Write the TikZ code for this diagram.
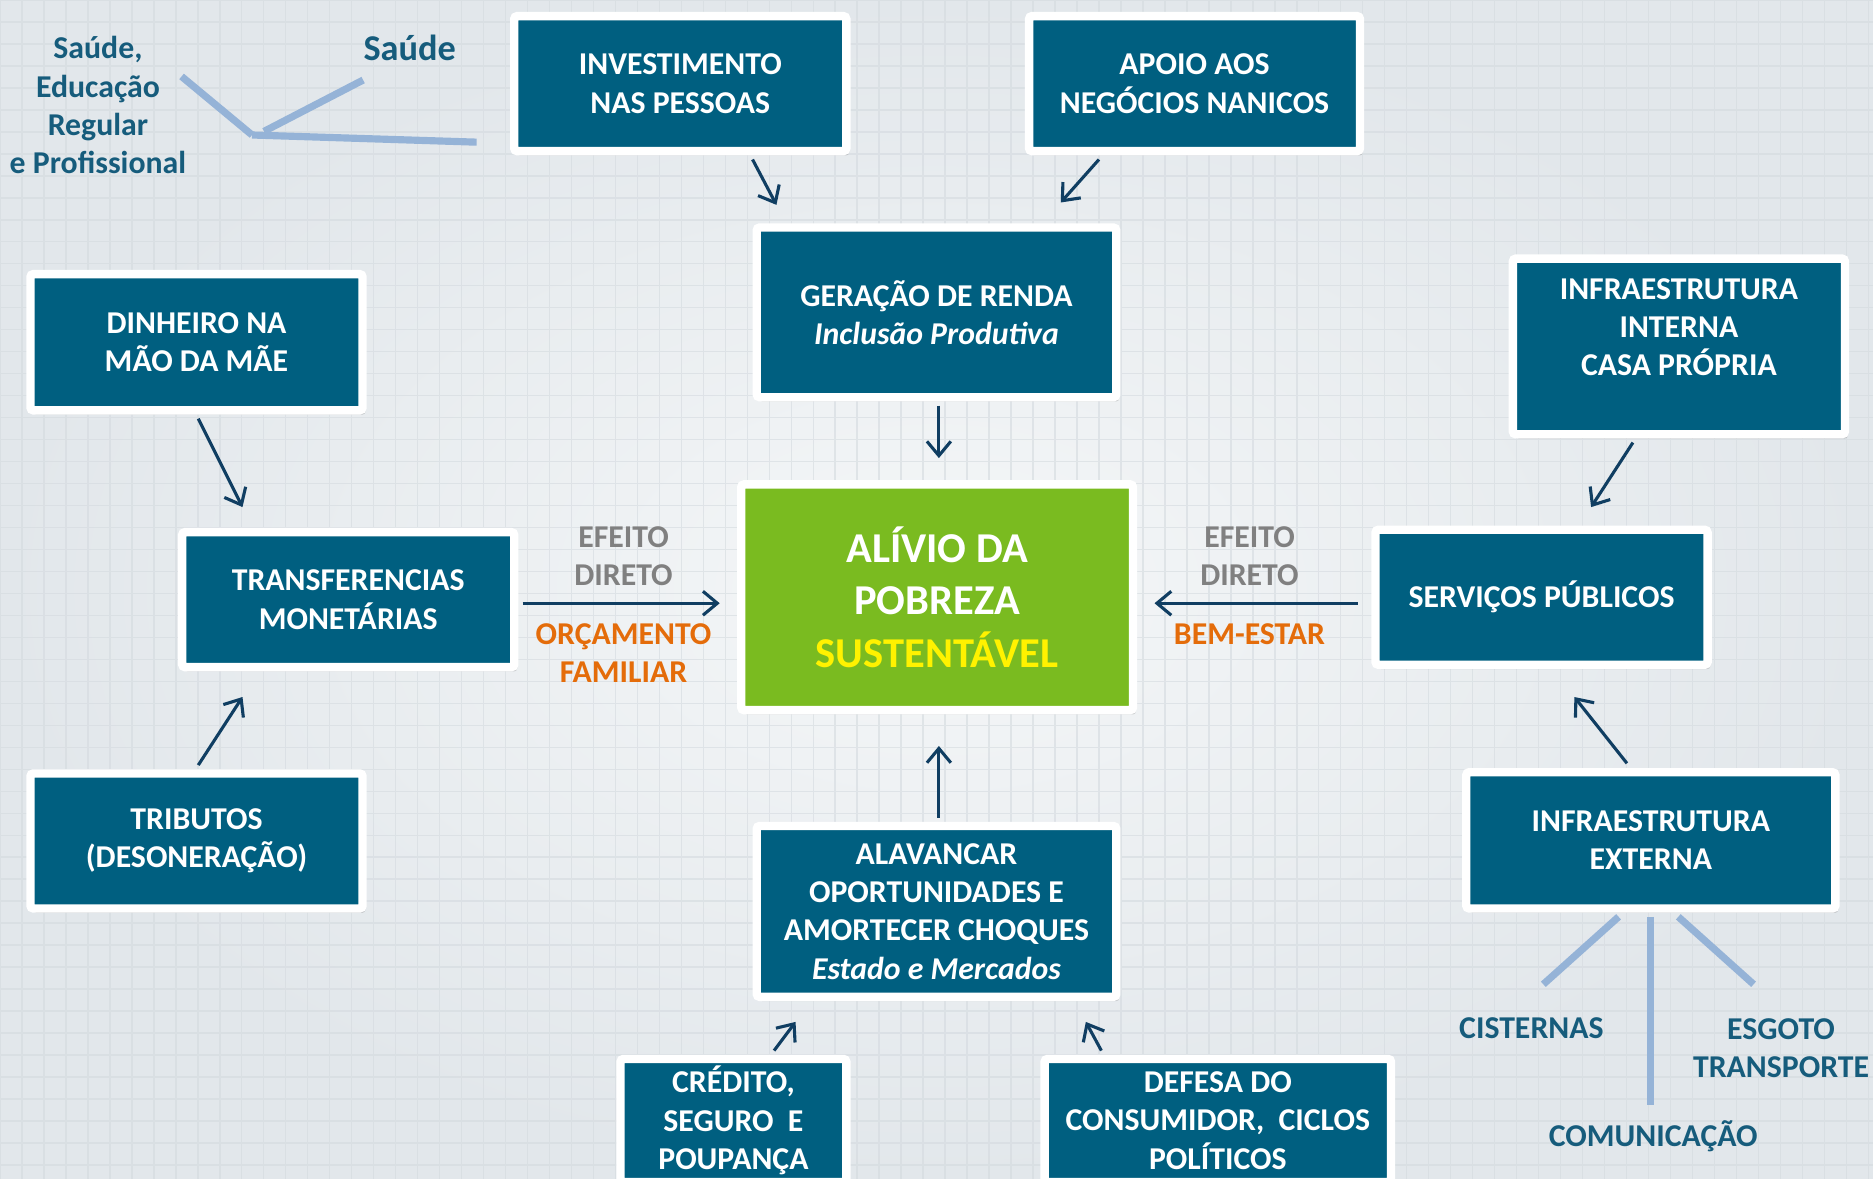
\documentclass[tikz,border=0pt]{standalone}
\usepackage{fontspec}
\setmainfont{Carlito}
\usetikzlibrary{arrows.meta,shadows,calc}
\definecolor{boxblue}{RGB}{0,95,128}
\definecolor{alivgreen}{RGB}{122,187,32}
\definecolor{arrowblue}{RGB}{16,62,98}
\definecolor{lineblue}{RGB}{149,179,215}
\definecolor{labelblue}{RGB}{22,92,124}
\definecolor{efgray}{RGB}{128,128,128}
\definecolor{orcorange}{RGB}{228,108,10}
\definecolor{bgouter}{RGB}{226,231,235}
\definecolor{bginner}{RGB}{245,247,248}
\definecolor{gridcol}{RGB}{212,218,223}
\begin{document}
\begin{tikzpicture}[x=0.5pt,y=-0.5pt,
  box/.style={draw=white, line width=3.5pt, fill=boxblue, text=white,
    font=\bfseries\fontsize{13.3}{16}\selectfont, align=center, inner sep=0pt,
    rounded corners=1.2pt,
    drop shadow={shadow xshift=1.2pt, shadow yshift=-1.8pt, opacity=0.3}},
  arr/.style={draw=arrowblue, line width=1.3pt,
    -{Straight Barb[length=6pt,width=10pt,line width=1.3pt]}},
  branch/.style={draw=lineblue, line width=3pt},
  lbl/.style={font=\bfseries\fontsize{13.3}{16}\selectfont, align=center, inner sep=0pt, text=labelblue}
]
\useasboundingbox (0,0) rectangle (1568,987);
% background
\shade[inner color=bginner, outer color=bgouter] (0,0) rectangle (1568,987);
\draw[gridcol, line width=0.6pt, opacity=0.6, step=9.2pt] (0,0) grid (1568,987);

% boxes
\node[box, minimum width=139pt, minimum height=56.5pt] (inv) at (569.5,70) {INVESTIMENTO\\NAS PESSOAS};
\node[box, minimum width=138.5pt, minimum height=56.5pt] (apoio) at (1000,70) {APOIO AOS\\NEGÓCIOS NANICOS};
\node[box, minimum width=150.5pt, minimum height=71pt] (ger) at (784,261.5) {GERAÇÃO DE RENDA\\\textit{Inclusão Produtiva}};
\node[box, minimum width=139pt, minimum height=57pt] (din) at (164.5,286.5) {DINHEIRO NA\\MÃO DA MÃE};
\node[box, minimum width=139pt, minimum height=73.5pt] (infint) at (1405.5,290) {INFRAESTRUTURA\\INTERNA\\CASA PRÓPRIA\\\mbox{}};
\node[box, minimum width=139pt, minimum height=56.5pt] (trans) at (291.5,502) {TRANSFERENCIAS\\MONETÁRIAS};
\node[box, fill=alivgreen, minimum width=164pt, minimum height=94.5pt,
  font=\bfseries\fontsize{17.8}{22}\selectfont] (aliv) at (784.5,500)
  {ALÍVIO DA\\POBREZA\\\textcolor{yellow}{SUSTENTÁVEL}};
\node[box, minimum width=139pt, minimum height=56.5pt] (serv) at (1290.5,500) {SERVIÇOS PÚBLICOS};
\node[box, minimum width=139pt, minimum height=56.5pt] (trib) at (164.5,704) {TRIBUTOS\\(DESONERAÇÃO)};
\node[box, minimum width=154.5pt, minimum height=57pt] (infext) at (1382,703.5) {INFRAESTRUTURA\\EXTERNA};
\node[box, minimum width=150.5pt, minimum height=71.5pt] (alav) at (784,763) {ALAVANCAR\\OPORTUNIDADES E\\AMORTECER CHOQUES\\\textit{Estado e Mercados}};
\node[box, minimum width=94.5pt, minimum height=51.5pt] (cred) at (614,938) {CRÉDITO,\\SEGURO\ \ E\\POUPANÇA};
\node[box, minimum width=145pt, minimum height=51.5pt] (def) at (1019.5,938) {DEFESA DO\\CONSUMIDOR,\ \ CICLOS\\POLÍTICOS};

% arrows
\draw[arr] ([xshift=30.25pt,yshift=-1.75pt]inv.south) -- ([xshift=-67pt,yshift=7.75pt]ger.north);
\draw[arr] ([xshift=-40pt,yshift=-1.75pt]apoio.south) -- ([xshift=52pt,yshift=8.75pt]ger.north);
\draw[arr] ([xshift=1pt,yshift=-1.75pt]ger.south) -- ([xshift=0.75pt,yshift=9.25pt]aliv.north);
\draw[arr] ([xshift=0.75pt,yshift=-1.75pt]din.south) -- ([xshift=-44.25pt,yshift=8.75pt]trans.north);
\draw[arr] ([xshift=0.75pt,yshift=1.75pt]trib.north) -- ([xshift=-44.25pt,yshift=-10.75pt]trans.south);
\draw[arr] ([xshift=1.75pt,yshift=-1.5pt]trans.east) -- ([xshift=-7.25pt,yshift=-2.5pt]aliv.west);
\draw[arr] ([xshift=-5.75pt,yshift=-2.5pt]serv.west) -- ([xshift=7.25pt,yshift=-2.5pt]aliv.east);
\draw[arr] ([xshift=-19.25pt,yshift=-1.75pt]infint.south) -- ([xshift=20.75pt,yshift=7.75pt]serv.north);
\draw[arr] ([xshift=-10pt,yshift=2pt]infext.north) -- ([xshift=13.75pt,yshift=-11.75pt]serv.south);
\draw[arr] ([xshift=1pt,yshift=1.75pt]alav.north) -- ([xshift=0.75pt,yshift=-13.25pt]aliv.south);
\draw[arr] ([xshift=17pt,yshift=1.75pt]cred.north) -- ([xshift=-59pt,yshift=-8.75pt]alav.south);
\draw[arr] ([xshift=-48.75pt,yshift=1.75pt]def.north) -- ([xshift=62.5pt,yshift=-8.75pt]alav.south);

% side labels
\node[lbl, text=efgray] (efl) at (522,465.5) {EFEITO\\DIRETO};
\node[lbl, text=orcorange] (orc) at (522,547) {ORÇAMENTO\\FAMILIAR};
\node[lbl, text=efgray] (efr) at (1046,465.5) {EFEITO\\DIRETO};
\node[lbl, text=orcorange] (bem) at (1046,531) {BEM-ESTAR};

% top-left labels and branches
\node[lbl] (sedu) at (82,88) {Saúde,\\Educação\\Regular\\e Profissional};
\node[lbl, font=\bfseries\fontsize{15.2}{18}\selectfont] (saude) at (343,40) {Saúde};
\coordinate (hub) at (211,113);
\coordinate (hubb) at (221,110);
\coordinate (sa1) at (152,64);
\coordinate (sa2) at (304,67);
\coordinate (sa3) at (399,119);
\draw[branch] (hub) -- (sa1);
\draw[branch] (hubb) -- (sa2);
\draw[branch] (hub) -- (sa3);

% bottom-right branches
\coordinate (b1) at (1292,824);
\coordinate (b2) at (1382,925);
\coordinate (b3) at (1468,824);
\draw[branch] ([xshift=-13.5pt,yshift=-1.75pt]infext.south) -- (b1);
\draw[branch] ([yshift=-1.75pt]infext.south) -- (b2);
\draw[branch] ([xshift=11.5pt,yshift=-1.75pt]infext.south) -- (b3);
\node[lbl] (cist) at (1282,861) {CISTERNAS};
\node[lbl] (esg) at (1491,877.5) {ESGOTO\\TRANSPORTE};
\node[lbl] (com) at (1384,951) {COMUNICAÇÃO};
\end{tikzpicture}
\end{document}
